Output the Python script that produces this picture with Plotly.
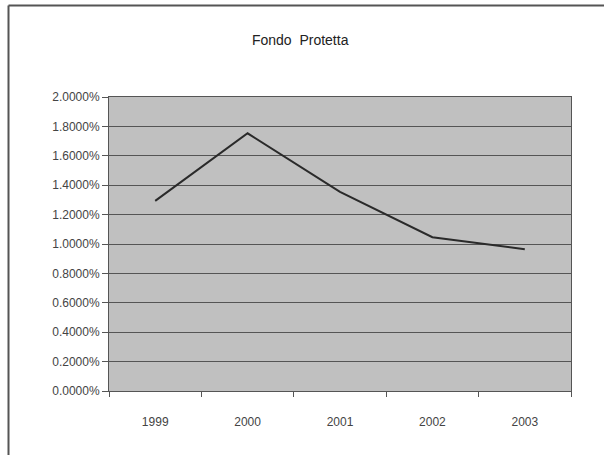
import plotly.graph_objects as go

# dati
anni = ["1999", "2000", "2001", "2002", "2003"]
rendimento = [0.01293, 0.01753, 0.01355, 0.01046, 0.00964]
y_ticks = [0.0, 0.002, 0.004, 0.006, 0.008, 0.010, 0.012, 0.014, 0.016, 0.018, 0.020]

fig = go.Figure()

fig.add_trace(
    go.Scatter(
        x=anni,
        y=rendimento,
        mode="lines",
        line=dict(color="#2a2a2a", width=2),
        showlegend=False,
    )
)

fig.update_layout(
    width=604,
    height=455,
    margin=dict(l=109, r=33, t=97, b=64),
    paper_bgcolor="white",
    plot_bgcolor="#c0c0c0",
    font=dict(family="Liberation Sans, Arial, sans-serif", size=12, color="#444444"),
    title=dict(
        text="Fondo  Protetta",
        x=0.497, xanchor="center",
        y=1 - 40 / 455, yanchor="middle",
        font=dict(size=14, color="#222222"),
    ),
)

fig.update_xaxes(
    type="category",
    range=[-0.5, 4.5],
    tickson="boundaries",
    ticks="outside",
    ticklen=5,
    tickcolor="#555555",
    ticklabelstandoff=20,
    showgrid=False,
    showline=True,
    linecolor="#555555",
    linewidth=1,
    mirror=True,
)

fig.update_yaxes(
    range=[0, 0.02],
    tickvals=y_ticks,
    tickformat=".4%",
    ticks="outside",
    ticklen=6,
    tickcolor="#555555",
    showgrid=True,
    gridcolor="#555555",
    gridwidth=1,
    zeroline=False,
    showline=True,
    linecolor="#555555",
    linewidth=1,
    mirror=True,
)

# cornice esterna (solo bordo sinistro e superiore visibili)
fx = (8.5 - 109) / 462
fy = (391 - 5.5) / 294
fig.add_shape(type="line", xref="paper", yref="paper",
              x0=fx, x1=1.2, y0=fy, y1=fy,
              line=dict(color="#555555", width=2))
fig.add_shape(type="line", xref="paper", yref="paper",
              x0=fx, x1=fx, y0=fy, y1=-0.3,
              line=dict(color="#555555", width=2))

# niente margine della pagina, così il grafico parte da (0, 0)
fig.write_html("out.html", config={"displayModeBar": False},
               post_script="document.body.style.margin='0';")
